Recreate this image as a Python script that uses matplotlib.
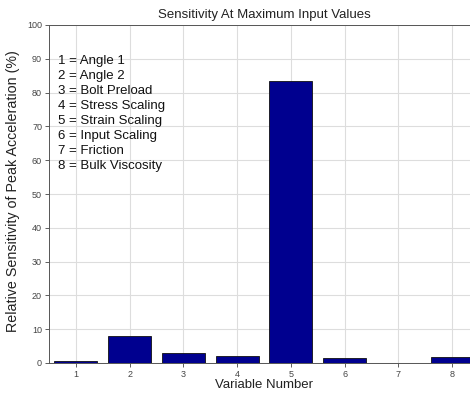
'''Sensitivity of peak acceleration to each input variable.'''
import matplotlib
matplotlib.use('Agg')
import matplotlib.pyplot as plt

plt.rcParams['font.family'] = ['Liberation Sans', 'DejaVu Sans']

# variable numbers and their relative sensitivity (%)
variables = [1, 2, 3, 4, 5, 6, 7, 8]
sensitivity = [0.7, 8.1, 2.9, 2.0, 83.4, 1.4, 0.0, 1.7]
names = ['Angle 1', 'Angle 2', 'Bolt Preload', 'Stress Scaling',
         'Strain Scaling', 'Input Scaling', 'Friction', 'Bulk Viscosity']
y_ticks = list(range(0, 101, 10))


def main():
    fig = plt.figure(figsize=(4.7, 3.94), dpi=100)
    # axes run past the right edge of the picture, like the original crop
    axes = fig.add_axes([49 / 470, 31 / 394, 430 / 470, 338 / 394])

    axes.bar(variables, sensitivity, width=0.8, color='#00008f',
             edgecolor='#111111', linewidth=0.6, zorder=3)

    axes.set_xlim(0.5, 8.5)
    axes.set_ylim(0, 100)
    axes.set_xticks(variables)
    axes.set_yticks(y_ticks)
    axes.tick_params(labelsize=6.5, length=3, width=0.6, colors='#444444',
                     pad=2)
    axes.grid(True, color='#dddddd', linewidth=0.8, zorder=0)
    axes.set_axisbelow(True)
    for spine in axes.spines.values():
        spine.set_color('#555555')
        spine.set_linewidth(0.7)

    axes.set_title('Sensitivity At Maximum Input Values', fontsize=9.5,
                   color='#222222', pad=5)
    axes.set_xlabel('Variable Number', fontsize=9.5, color='#222222',
                    labelpad=0)
    axes.set_ylabel('Relative Sensitivity of Peak Acceleration (%)',
                    fontsize=10.3, color='#222222')
    axes.yaxis.set_label_coords(-0.068, 0.51)

    # key of variable names in the upper left corner
    key = '\n'.join(f'{n} = {name}' for n, name in zip(variables, names))
    axes.text(0.67, 91.2, key, fontsize=9.5, color='#111111', va='top',
              ha='left', linespacing=1.33, zorder=4)

    fig.savefig('out.png', dpi=100)


if __name__ == '__main__':
    main()
